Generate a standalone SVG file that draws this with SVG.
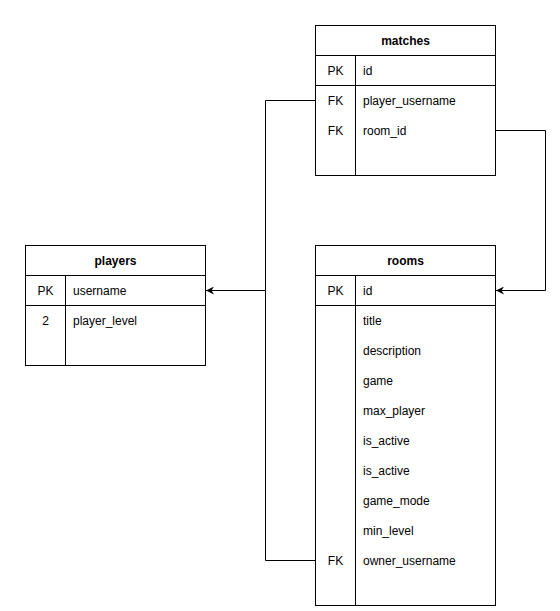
<svg xmlns="http://www.w3.org/2000/svg" width="560" height="611" viewBox="0 0 560 611">
<defs>
<style>
.box{fill:#ffffff;stroke:#000000;stroke-width:1}
.ln{stroke:#000000;stroke-width:1;fill:none}
text{font-family:"Liberation Sans",Arial,sans-serif;font-size:12px;fill:#000000;dominant-baseline:central}
.h{font-weight:bold;text-anchor:middle}
.k{text-anchor:middle}
</style>
<marker id="arr" viewBox="0 0 10 10" refX="10" refY="5" markerWidth="8" markerHeight="8" markerUnits="userSpaceOnUse" orient="auto">
<path d="M0,0 L10,5 L0,10 L3,5 Z" fill="#000000"/>
</marker>
</defs>
<rect width="560" height="611" fill="#ffffff"/>
<g id="connectors">
<polyline class="ln" points="315.5,100.5 265.5,100.5 265.5,290.5 206,290.5" marker-end="url(#arr)"/>
<polyline class="ln" points="315.5,560.5 265.5,560.5 265.5,290.5"/>
<polyline class="ln" points="495.5,130.5 545.5,130.5 545.5,290.5 496,290.5" marker-end="url(#arr)"/>
</g>
<g id="matches">
<rect class="box" x="315.5" y="25.5" width="180" height="150"/>
<line class="ln" x1="315.5" y1="55.5" x2="495.5" y2="55.5"/>
<line class="ln" x1="315.5" y1="85.5" x2="495.5" y2="85.5"/>
<line class="ln" x1="355.5" y1="55.5" x2="355.5" y2="175.5"/>
<text class="h" x="405.5" y="40.5">matches</text>
<text class="k" x="335.5" y="70.5">PK</text>
<text x="363" y="70.5">id</text>
<text class="k" x="335.5" y="100.5">FK</text>
<text x="363" y="100.5">player_username</text>
<text class="k" x="335.5" y="130.5">FK</text>
<text x="363" y="130.5">room_id</text>
</g>
<g id="players">
<rect class="box" x="25.5" y="245.5" width="180" height="120"/>
<line class="ln" x1="25.5" y1="275.5" x2="205.5" y2="275.5"/>
<line class="ln" x1="25.5" y1="305.5" x2="205.5" y2="305.5"/>
<line class="ln" x1="65.5" y1="275.5" x2="65.5" y2="365.5"/>
<text class="h" x="115.5" y="260.5">players</text>
<text class="k" x="45.5" y="290.5">PK</text>
<text x="73" y="290.5">username</text>
<text class="k" x="45.5" y="320.5">2</text>
<text x="73" y="320.5">player_level</text>
</g>
<g id="rooms">
<rect class="box" x="315.5" y="245.5" width="180" height="360"/>
<line class="ln" x1="315.5" y1="275.5" x2="495.5" y2="275.5"/>
<line class="ln" x1="315.5" y1="305.5" x2="495.5" y2="305.5"/>
<line class="ln" x1="355.5" y1="275.5" x2="355.5" y2="605.5"/>
<text class="h" x="405.5" y="260.5">rooms</text>
<text class="k" x="335.5" y="290.5">PK</text>
<text x="363" y="290.5">id</text>
<text x="363" y="320.5">title</text>
<text x="363" y="350.5">description</text>
<text x="363" y="380.5">game</text>
<text x="363" y="410.5">max_player</text>
<text x="363" y="440.5">is_active</text>
<text x="363" y="470.5">is_active</text>
<text x="363" y="500.5">game_mode</text>
<text x="363" y="530.5">min_level</text>
<text class="k" x="335.5" y="560.5">FK</text>
<text x="363" y="560.5">owner_username</text>
</g>
</svg>
